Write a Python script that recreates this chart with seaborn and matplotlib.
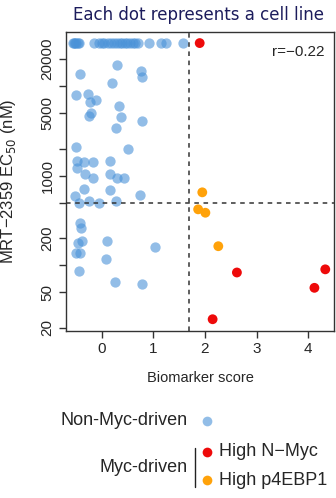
import numpy as np
import pandas as pd
import seaborn as sns
import matplotlib.pyplot as plt
from matplotlib.lines import Line2D

# Non-Myc-driven cell lines (biomarker score, EC50 in nM; 30000 = not reached)
non_myc_score = [-0.56, -0.53, -0.51, -0.49, -0.46, -0.43, -0.15, -0.05, 0.00, 0.05,
                 0.12, 0.18, 0.25, 0.30, 0.35, 0.40, 0.45, 0.50, 0.55, 0.60,
                 0.65, 0.70, 0.92, 1.15, 1.25, 1.58,
                 0.30, -0.42, 0.77, 0.79, 0.21, -0.50, -0.27, -0.23, -0.10, 0.33,
                 -0.21, -0.24, 0.37, 0.79, 0.29,
                 -0.49, 0.51, -0.48, -0.34, -0.16, 0.17, -0.47, -0.32, -0.16, 0.17,
                 0.30, 0.43, -0.34, 0.17, 0.74, -0.51, -0.43, -0.24, -0.05, 0.29,
                 -0.41, -0.39, -0.45, -0.37, 0.11, 1.03, -0.50, -0.41, 0.08, -0.44,
                 0.26, 0.78]
non_myc_ec50 = [30000] * 26 + \
               [17000, 13700, 14700, 12600, 10800, 7870, 8070, 6640, 6940, 6040,
                5000, 4590, 4440, 4080, 3350,
                2060, 1970, 1445, 1400, 1400, 1470, 1200, 1030, 942, 1045,
                942, 942, 705, 682, 604, 585, 489, 519, 489, 527,
                292, 257, 178, 186, 187, 160, 137, 137, 117, 86,
                65, 61]

# Myc-driven cell lines
nmyc_score = [1.90, 2.62, 4.33, 4.12, 2.15]
nmyc_ec50 = [30000, 83, 90, 56, 25]
p4ebp1_score = [1.95, 1.87, 2.01, 2.26]
p4ebp1_ec50 = [650, 420, 385, 163]

score_cut = 1.69
ec50_cut = 500
r_value = "r=\u22120.22"

y_ticks = [20000, 10000, 5000, 2000, 1000, 500, 200, 100, 50, 20]
y_labels = ["20000", "", "5000", "", "1000", "", "200", "", "50", "20"]
x_ticks = [0, 1, 2, 3, 4]

df = pd.DataFrame({
    "score": non_myc_score + nmyc_score + p4ebp1_score,
    "ec50": non_myc_ec50 + nmyc_ec50 + p4ebp1_ec50,
    "group": ["Non-Myc-driven"] * len(non_myc_score) + ["High N-Myc"] * len(nmyc_score)
             + ["High p4EBP1"] * len(p4ebp1_score),
})

sns.set_style("white")
plt.rcParams["font.family"] = ["Liberation Sans", "DejaVu Sans"]

blue = "#4a92d8"
red = "#ee0a0a"
orange = "#ffa20a"

fig = plt.figure(figsize=(3.36, 4.98), dpi=100)
ax = fig.add_axes([0.196, 0.335, 0.799, 0.601])

sns.scatterplot(data=df[df.group == "Non-Myc-driven"], x="score", y="ec50", color=blue,
                alpha=0.6, s=55, linewidth=0, ax=ax, legend=False)
sns.scatterplot(data=df[df.group != "Non-Myc-driven"], x="score", y="ec50", hue="group",
                palette={"High N-Myc": red, "High p4EBP1": orange},
                s=50, linewidth=0, ax=ax, legend=False)

ax.set_yscale("log")
ax.set_ylim(18.4, 40000)
ax.set_xlim(-0.69, 4.505)
ax.axvline(score_cut, color="#333333", lw=1.1, ls=(0, (3, 3)))
ax.axhline(ec50_cut, color="#333333", lw=1.1, ls=(0, (3, 3)))

ax.set_yticks(y_ticks)
ax.set_yticklabels(y_labels, rotation=90, va="center", fontsize=11)
ax.yaxis.set_minor_locator(plt.NullLocator())
ax.set_xticks(x_ticks)
ax.set_xticklabels([str(t) for t in x_ticks], fontsize=11)
ax.tick_params(direction="out", length=5, width=1, color="#333333", pad=3,
               left=True, bottom=True)
for sp in ax.spines.values():
    sp.set_color("#333333")
    sp.set_linewidth(1)

ax.set_xlabel("Biomarker score", fontsize=10.5)
ax.set_ylabel("MRT\u22122359 EC$_{50}$ (nM)", fontsize=12)
ax.yaxis.set_label_coords(-0.18, 0.5)
ax.xaxis.set_label_coords(0.5, -0.157)
ax.xaxis.label.set_va("center")

ax.text(0.963, 0.934, r_value, transform=ax.transAxes, ha="right", va="center", fontsize=11)

fig.text(0.592, 0.970, "Each dot represents a cell line", ha="center", va="center",
         fontsize=12, color="#1c1c5c", family="DejaVu Sans")

# legend
fig.text(0.557, 0.155, "Non-Myc-driven", ha="right", va="center", fontsize=13)
fig.text(0.557, 0.062, "Myc-driven", ha="right", va="center", fontsize=13)
fig.add_artist(Line2D([0.580, 0.580], [0.022, 0.100], color="#222222", lw=1,
                      transform=fig.transFigure))
for yy, col, lab, a in [(0.155, blue, None, 0.6), (0.093, red, "High N\u2212Myc", 1),
                        (0.036, orange, "High p4EBP1", 1)]:
    fig.add_artist(Line2D([0.616], [yy], marker="o", ms=7, mew=0, color=col, alpha=a,
                          transform=fig.transFigure))
    if lab:
        fig.text(0.652, yy, lab, ha="left", va="center", fontsize=13)

fig.savefig("out.png", dpi=100)
